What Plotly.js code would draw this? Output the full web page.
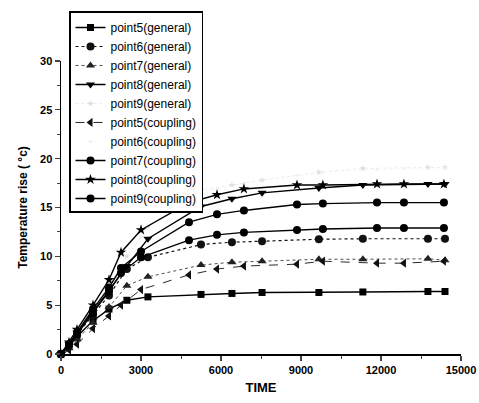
<!DOCTYPE html>
<html><head><meta charset="utf-8">
<script src="https://cdn.plot.ly/plotly-3.0.1.min.js"></script>
<style>html,body{margin:0;padding:0;background:#fff}#c{width:479px;height:403px}</style>
</head><body><div id="c"></div>
<script>
var timeGeneral  = [0, 300, 600, 1200, 1800, 2470, 3260, 5250, 6410, 7540, 9670, 11320, 13760, 14400];
var timeCoupling = [0, 300, 600, 1200, 1800, 2250, 3000, 4800, 5850, 6860, 8850, 9820, 11850, 12860, 14360];

var p5General = [0, 0.8, 1.8, 3.4, 4.6, 5.5, 5.85, 6.1, 6.2, 6.3, 6.3, 6.35, 6.4, 6.4];
var p6General = [0, 0.9, 2.0, 4.0, 6.0, 8.7, 9.9, 11.2, 11.45, 11.55, 11.75, 11.8, 11.8, 11.8];
var p7General = [0, 0.6, 1.5, 3.2, 4.8, 7.0, 7.9, 9.1, 9.4, 9.5, 9.7, 9.7, 9.75, 9.6];
var p8General = [0, 1.0, 2.2, 4.3, 6.5, 9.0, 11.8, 15.1, 15.9, 16.5, 17.0, 17.3, 17.4, 17.4];
var p9General = [0, 1.0, 2.3, 4.6, 7.0, 10.0, 13.0, 16.8, 17.3, 17.8, 18.6, 19.0, 19.1, 19.1];

var p5Coupling = [0, 0.4, 1.0, 2.6, 3.9, 5.0, 6.6, 8.1, 8.7, 9.0, 9.2, 9.5, 9.3, 9.3, 9.5];
var p6Coupling = [0, 1.0, 2.3, 4.5, 6.9, 8.9, 12.0, 16.0, 16.9, 17.5, 18.3, 18.6, 18.9, 19.0, 19.0];
var p7Coupling = [0, 0.9, 2.0, 4.2, 6.4, 8.3, 9.9, 11.65, 12.2, 12.45, 12.7, 12.8, 12.9, 12.9, 12.9];
var p8Coupling = [0, 1.2, 2.5, 5.0, 7.6, 10.4, 12.7, 15.5, 16.3, 16.9, 17.3, 17.3, 17.4, 17.4, 17.4];
var p9Coupling = [0, 1.0, 2.2, 4.6, 6.8, 8.8, 10.5, 13.5, 14.3, 14.7, 15.3, 15.4, 15.5, 15.5, 15.5];

var xTickVals = [0, 3000, 6000, 9000, 12000, 15000];
var xTickText = ["0", "3000", "6000", "9000", "12000", "15000"];
var yTickVals = [0, 5, 10, 15, 20, 25, 30];

var seriesNames = ["point5(general)","point6(general)","point7(general)","point8(general)","point9(general)",
  "point5(coupling)","point6(coupling)","point7(coupling)","point8(coupling)","point9(coupling)"];

function tr(name, x, y, sym, dash, color, lw, msize) {
  return {type:'scatter', mode:'lines+markers', name:name, x:x, y:y,
    line:{color:color, width:lw, dash:dash},
    marker:{symbol:sym, size:msize, color:color}, cliponaxis:false};
}
var data = [
  tr(seriesNames[0], timeGeneral, p5General, 'square', 'solid', '#000', 1.4, 7),
  tr(seriesNames[1], timeGeneral, p6General, 'circle', 'dot', '#111', 1.2, 8),
  tr(seriesNames[2], timeGeneral, p7General, 'triangle-up', 'dot', '#222', 0.8, 8),
  tr(seriesNames[3], timeGeneral, p8General, 'triangle-down', 'solid', '#000', 1.4, 8),
  tr(seriesNames[4], timeGeneral, p9General, 'star', 'dot', '#dddddd', 0.6, 5),
  tr(seriesNames[5], timeCoupling, p5Coupling, 'triangle-left', 'dash', '#111', 0.9, 8),
  tr(seriesNames[6], timeCoupling, p6Coupling, 'circle', 'dot', '#f0f0f0', 0.5, 3),
  tr(seriesNames[7], timeCoupling, p7Coupling, 'circle', 'solid', '#000', 1.3, 8),
  tr(seriesNames[8], timeCoupling, p8Coupling, 'star', 'solid', '#000', 1.4, 8),
  tr(seriesNames[9], timeCoupling, p9Coupling, 'circle', 'solid', '#000', 1.4, 8)
];

var layout = {
  width:479, height:403,
  margin:{l:61, r:18, t:58, b:49, pad:0},
  paper_bgcolor:'#fff', plot_bgcolor:'#fff',
  font:{family:'Arial, Liberation Sans, sans-serif', color:'#000'},
  xaxis:{range:[0,15000], tickmode:'array', tickvals:xTickVals, ticktext:xTickText, ticks:'outside', ticklen:5, tickwidth:1.3,
    minor:{dtick:1500, ticks:'outside', ticklen:3, tickwidth:1},
    showline:true, linewidth:1.5, linecolor:'#000', showgrid:false, zeroline:false,
    tickfont:{family:'Arial, Liberation Sans, sans-serif', size:11, color:'#000', weight:'bold'},
    title:{text:'TIME', font:{family:'Arial, Liberation Sans, sans-serif', size:13, weight:'bold', color:'#000'}, standoff:8}},
  yaxis:{range:[0,30], tickmode:'array', tickvals:yTickVals, ticks:'outside', ticklen:5, tickwidth:1.3,
    minor:{dtick:2.5, ticks:'outside', ticklen:3, tickwidth:1},
    showline:true, linewidth:1.5, linecolor:'#000', showgrid:false, zeroline:false,
    tickfont:{family:'Arial, Liberation Sans, sans-serif', size:11, color:'#000', weight:'bold'},
    title:{text:'Temperature rise ( °c)', font:{family:'Arial, Liberation Sans, sans-serif', size:12, weight:'bold', color:'#000'}, standoff:10}},
  showlegend:true,
  legend:{x:0.02, y:1.169, xanchor:'left', yanchor:'top', bgcolor:'#fff', bordercolor:'#000', borderwidth:1.5,
    font:{family:'Arial, Liberation Sans, sans-serif', size:12, color:'#000'}, tracegroupgap:0, itemwidth:30}
};
Plotly.newPlot('c', data, layout, {staticPlot:true, displayModeBar:false});
</script></body></html>
